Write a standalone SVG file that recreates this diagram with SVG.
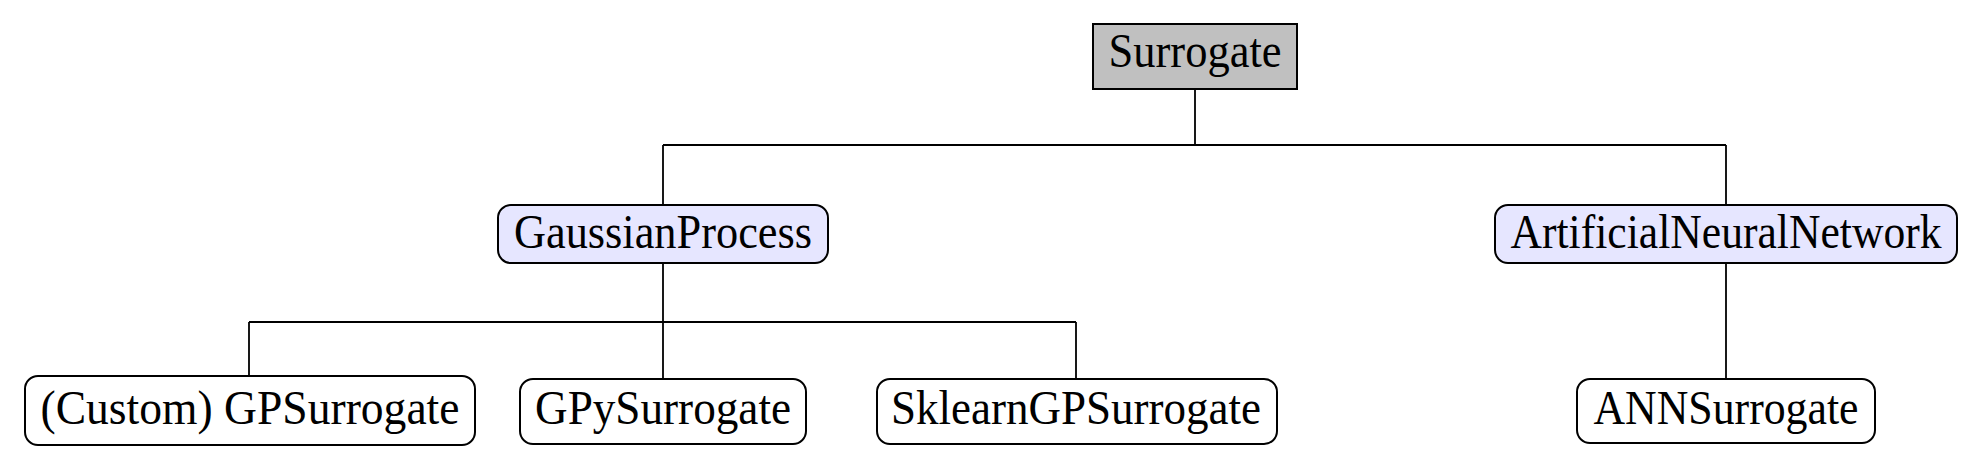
<svg xmlns="http://www.w3.org/2000/svg" width="1982" height="470" viewBox="0 0 1982 470">
<style>
.box{stroke:#000;stroke-width:2}
.root{fill:#c0c0c0}
.mid{fill:#e6e6ff}
.leaf{fill:#fff}
text{font-family:'Liberation Serif',serif;font-size:48px;fill:#000;text-anchor:middle}
.conn{fill:none;stroke:#000;stroke-width:1.8}
</style>
<rect width="1982" height="470" fill="#fff"/>
<g id="connectors">
<path class="conn" d="M1195 89 V145 M663 145 H1726 M663 145 V205 M1726 145 V205"/>
<path class="conn" d="M663 263 V379 M249 322 H1076 M249 322 V376 M1076 322 V379"/>
<path class="conn" d="M1726 263 V379"/>
</g>
<g id="surrogate">
<rect class="box root" x="1093" y="24" width="204" height="65"/>
<text x="1195" y="67" textLength="173" lengthAdjust="spacingAndGlyphs">Surrogate</text>
</g>
<g id="gaussianprocess">
<rect class="box mid" x="498" y="205" width="330" height="58" rx="13"/>
<text x="663" y="248" textLength="298" lengthAdjust="spacingAndGlyphs">GaussianProcess</text>
</g>
<g id="ann">
<rect class="box mid" x="1495" y="205" width="462" height="58" rx="13"/>
<text x="1726" y="248" textLength="431" lengthAdjust="spacingAndGlyphs">ArtificialNeuralNetwork</text>
</g>
<g id="customgp">
<rect class="box leaf" x="25" y="376" width="450" height="69" rx="13"/>
<text x="250" y="424" textLength="419" lengthAdjust="spacingAndGlyphs">(Custom) GPSurrogate</text>
</g>
<g id="gpy">
<rect class="box leaf" x="520" y="379" width="286" height="65" rx="13"/>
<text x="663" y="424" textLength="256" lengthAdjust="spacingAndGlyphs">GPySurrogate</text>
</g>
<g id="sklearn">
<rect class="box leaf" x="877" y="379" width="400" height="65" rx="13"/>
<text x="1076" y="424" textLength="370" lengthAdjust="spacingAndGlyphs">SklearnGPSurrogate</text>
</g>
<g id="annsurrogate">
<rect class="box leaf" x="1577" y="379" width="298" height="64" rx="13"/>
<text x="1726" y="424" textLength="265" lengthAdjust="spacingAndGlyphs">ANNSurrogate</text>
</g>
</svg>
